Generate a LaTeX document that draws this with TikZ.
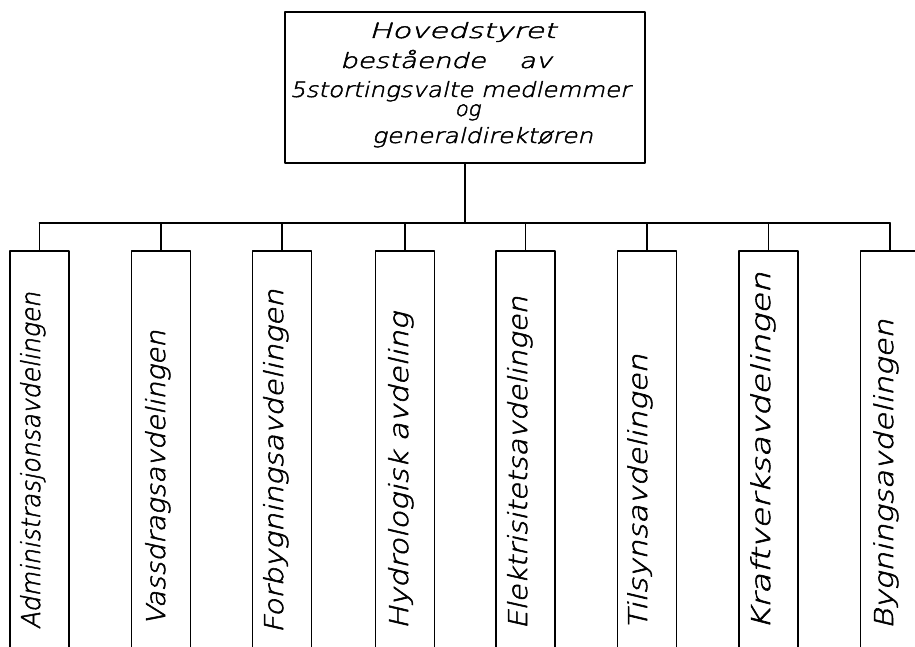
\documentclass[tikz,border=0pt]{standalone}
\usepackage{fontspec}
\usepackage{graphicx}
\setmainfont{DejaVu Sans}
\newfontfamily\handfont{DejaVu Sans ExtraLight}[FakeSlant=0.2, FakeBold=2]
\newcommand{\fitw}[2]{\resizebox{#1}{\height}{#2}}
\begin{document}
\begin{tikzpicture}[x=0.5pt,y=-0.5pt,
  line width=0.85pt, line cap=round, line join=round,
  headbox/.style={draw, line width=0.85pt, minimum width=180pt, minimum height=75.5pt, inner sep=0pt},
  headline/.style={anchor=base, font=\fontsize{10.5}{12}\selectfont\handfont, inner sep=0pt},
  deptbox/.style={draw, line width=0.85pt, minimum width=29.5pt, minimum height=205pt, inner sep=0pt},
  depttext/.style={rotate=90, anchor=base west, font=\fontsize{13}{14}\selectfont\handfont, inner sep=0pt}]
\useasboundingbox (0,0) rectangle (915,647);
\clip (0,0) rectangle (915,647);
% head box
\node[headbox] (top) at (465,87.5) {};
\node[headline] (h1) at (462.5,38) {\fitw{93.5pt}{Hovedstyret}};
\node[headline] (h2) at (446,68) {\fitw{106pt}{bestående\hspace{1.2em}av}};
\node[headline] (h3) at (460,97) {\fitw{170pt}{5stortingsvalte medlemmer}};
\node[headline] (h4) at (467.5,116) {og};
\node[headline] (h5) at (482.5,143) {\fitw{110.5pt}{generaldirektøren}};
% departments
\node[deptbox] (d1) at (39.5,456) {};
\node[deptbox] (d2) at (161,456) {};
\node[deptbox] (d3) at (282,456) {};
\node[deptbox] (d4) at (405,456) {};
\node[deptbox] (d5) at (525.5,456) {};
\node[deptbox] (d6) at (647,456) {};
\node[deptbox] (d7) at (768.5,456) {};
\node[deptbox] (d8) at (890,456) {};
\node[depttext] (t1) at (40,630) {\fitw{168.5pt}{Administrasjonsavdelingen}};
\node[depttext] (t2) at (165,626) {\fitw{147.5pt}{Vassdragsavdelingen}};
\node[depttext] (t3) at (283,634) {\fitw{172pt}{Forbygningsavdelingen}};
\node[depttext] (t4) at (408,630) {\fitw{158.5pt}{Hydrologisk avdeling}};
\node[depttext] (t5) at (527,630) {\fitw{166.5pt}{Elektrisitetsavdelingen}};
\node[depttext] (t6) at (647,630) {\fitw{137.5pt}{Tilsynsavdelingen}};
\node[depttext] (t7) at (770,631) {\fitw{179pt}{Kraftverksavdelingen}};
\node[depttext] (t8) at (893,630) {\fitw{155pt}{Bygningsavdelingen}};
% connectors
\coordinate (bus) at (465,223);
\draw (top.south) -- (bus);
\draw (d1.north |- bus) -- (d8.north |- bus);
\foreach \i in {1,...,8} {\draw (d\i.north |- bus) -- (d\i.north);}
\end{tikzpicture}
\end{document}
